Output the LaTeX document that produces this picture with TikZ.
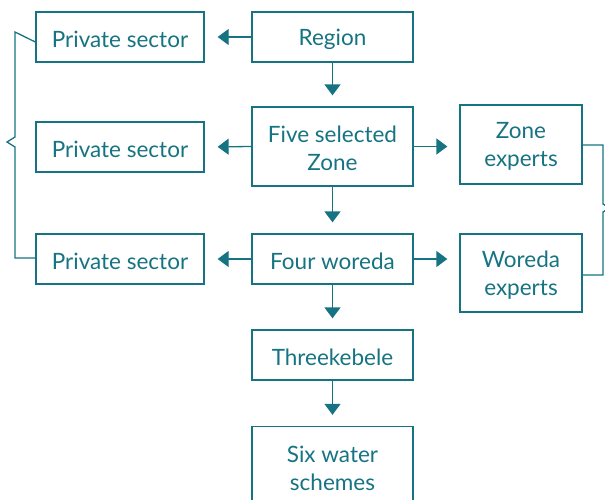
\documentclass[tikz,border=0pt]{standalone}
\usepackage{fontspec}
\setmainfont{Lato}
\usetikzlibrary{arrows.meta}
\definecolor{teal}{RGB}{22,116,130}
\begin{document}
\begin{tikzpicture}[x=1pt,y=-1pt,
  box/.style={draw=teal,line width=1.3pt,inner sep=0pt},
  lbl/.style={text=teal,align=center,inner sep=0pt,yshift=-2pt,
    font=\fontsize{22.5}{28}\selectfont},
  con/.style={draw=teal,line width=1.3pt},
  arr/.style={con,-{Triangle[length=11pt,width=16pt]}}]
\useasboundingbox (0,0) rectangle (605,499);
\clip (0,0) rectangle (605,499);
\node[box,minimum width=168pt,minimum height=50pt,label={[lbl]center:Private sector}] (ps1) at (120,37) {};
\node[box,minimum width=161pt,minimum height=50pt,label={[lbl]center:Region}] (region) at (332.5,37) {};
\node[box,minimum width=168pt,minimum height=50pt,label={[lbl]center:Private sector}] (ps2) at (120,147) {};
\node[box,minimum width=161pt,minimum height=79pt,label={[lbl]center:Five selected\\Zone}] (zone) at (332.5,146.5) {};
\node[box,minimum width=122pt,minimum height=79pt,label={[lbl]center:Zone\\experts}] (zexp) at (521,144.5) {};
\node[box,minimum width=168pt,minimum height=50pt,label={[lbl]center:Private sector}] (ps3) at (120,259) {};
\node[box,minimum width=161pt,minimum height=50pt,label={[lbl]center:Four woreda}] (woreda) at (332.5,259) {};
\node[box,minimum width=122pt,minimum height=78pt,label={[lbl]center:Woreda\\experts}] (wexp) at (521,273) {};
\node[box,minimum width=161pt,minimum height=50pt,label={[lbl]center:Threekebele}] (three) at (332.5,355) {};
\node[box,minimum width=161pt,minimum height=79pt,label={[lbl]center:Six water\\schemes}] (six) at (332.5,466) {};
% arrows
\draw[arr,shorten >=13pt] (region.west) -- (ps1.east);
\draw[arr,shorten >=13pt] (zone.west) -- (ps2.east);
\draw[arr,shorten >=13pt] (woreda.west) -- (ps3.east);
\draw[arr,shorten >=11pt] (region.south) -- (zone.north);
\draw[arr,shorten >=11pt] (zone.south) -- (woreda.north);
\draw[arr,shorten >=11pt] (woreda.south) -- (three.north);
\draw[arr,shorten >=11pt] (three.south) -- (six.north);
\draw[arr,shorten >=12pt] (zone.east) -- (zexp.west |- zone.east);
\draw[arr,shorten >=12pt] (woreda.east) -- (wexp.west |- woreda.east);
% left brace
\coordinate (lb1) at (15,32);
\coordinate (lb2) at (15,137);
\coordinate (lbt) at (7,142);
\coordinate (lb3) at (15,147);
\coordinate (lb4) at (15,258);
\draw[con] ([yshift=-5pt]ps1.west) -- (lb1) -- (lb2) -- (lbt) -- (lb3) -- (lb4) -- (ps3.west |- lb4);
% right brace
\coordinate (rb1) at (603,145);
\coordinate (rb2) at (603,204);
\coordinate (rbt) at (609,208);
\coordinate (rb3) at (603,212);
\coordinate (rb4) at (603,275);
\draw[con] (zexp.east |- rb1) -- (rb1) -- (rb2) -- (rbt) -- (rb3) -- (rb4) -- (wexp.east |- rb4);
\end{tikzpicture}
\end{document}
